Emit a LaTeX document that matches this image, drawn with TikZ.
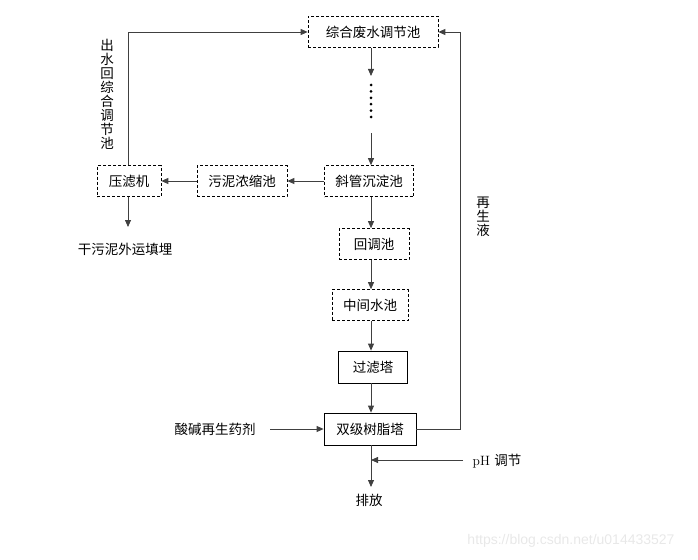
\documentclass[tikz,border=0pt]{standalone}
\usepackage{fontspec}
\newfontfamily\cjk{Noto Sans CJK SC}
\newfontfamily\wmfont{Liberation Sans}
\usetikzlibrary{arrows.meta}
\begin{document}
\begin{tikzpicture}[x=1pt,y=-1pt,
  font=\cjk\fontsize{13.5}{14}\selectfont,
  dbox/.style={draw, dashed, dash pattern=on 3pt off 2pt, line width=0.7pt, minimum height=31pt, inner sep=0pt},
  sbox/.style={draw, line width=0.8pt, minimum height=32pt, inner sep=0pt},
  link/.style={draw=black!75, line width=0.8pt, -{Triangle[width=6pt,length=7pt]}},
  vtext/.style={align=center, inner sep=0pt}]
\useasboundingbox (0,0) rectangle (698,559);
\node[dbox, minimum width=130pt] (tank) at (373,32) {综合废水调节池};
\node[dbox, minimum width=89pt] (xg) at (369,181) {斜管沉淀池};
\node[dbox, minimum width=90pt] (wn) at (242,181) {污泥浓缩池};
\node[dbox, minimum width=64pt] (yl) at (129,181) {压滤机};
\node[dbox, minimum width=70pt] (hd) at (374,244) {回调池};
\node[dbox, minimum width=76pt] (zj) at (370,305) {中间水池};
\node[sbox, minimum width=69pt] (gl) at (373,367) {过滤塔};
\node[sbox, minimum width=92pt] (sj) at (370,429) {双级树脂塔};

\node[inner sep=0pt] (gan) at (125,249) {干污泥外运填埋};
\node[inner sep=0pt] (sj2) at (215,429) {酸碱再生药剂};
\node[inner sep=0pt] (ph) at (497,461) {\rmfamily pH \cjk 调节};
\node[inner sep=0pt] (pf) at (369,500) {排放};
\node[vtext] (v1) at (107,94) {出\\水\\回\\综\\合\\调\\节\\池};
\node[vtext] (v2) at (483,217) {再\\生\\液};
\node[inner sep=0pt, text=black!9, font=\wmfont\fontsize{14}{16}\selectfont] (wm) at (571,541) {https://blog.csdn.net/u014433527};

% dotted passage
\coordinate (d1) at (371,76);
\coordinate (d2) at (371,133);
\draw[link] (tank.south -| d1) -- (d1);
\foreach \yy in {85,91.4,97.8,104.2,110.6,117}
  \fill (371,\yy) circle (1.5pt);
\draw[link] (d2) -- (xg.north -| d2);

\draw[link] (xg) -- (wn);
\draw[link] (wn) -- (yl);
\coordinate (ylb) at (128,227);
\draw[link] (yl.south -| ylb) -- (ylb);
\coordinate (yt) at (128,32);
\draw[link] (yl.north -| yt) -- (yt) -- (tank.west);

\coordinate (c1) at (371,0);
\draw[link] (xg.south -| c1) -- (hd.north -| c1);
\draw[link] (hd.south -| c1) -- (zj.north -| c1);
\draw[link] (zj.south -| c1) -- (gl.north -| c1);
\draw[link] (gl.south -| c1) -- (sj.north -| c1);

\coordinate (rr) at (460,32);
\draw[link] (sj.east) -- (sj.east -| rr) -- (rr) -- (tank.east);

\coordinate (sa) at (270,429);
\draw[link] (sa) -- (sj.west);

\coordinate (pb) at (371,487);
\draw[link] (sj.south -| pb) -- (pb);
\coordinate (pa) at (463,460);
\draw[link] (pa) -- (pa -| pb);
\end{tikzpicture}
\end{document}
